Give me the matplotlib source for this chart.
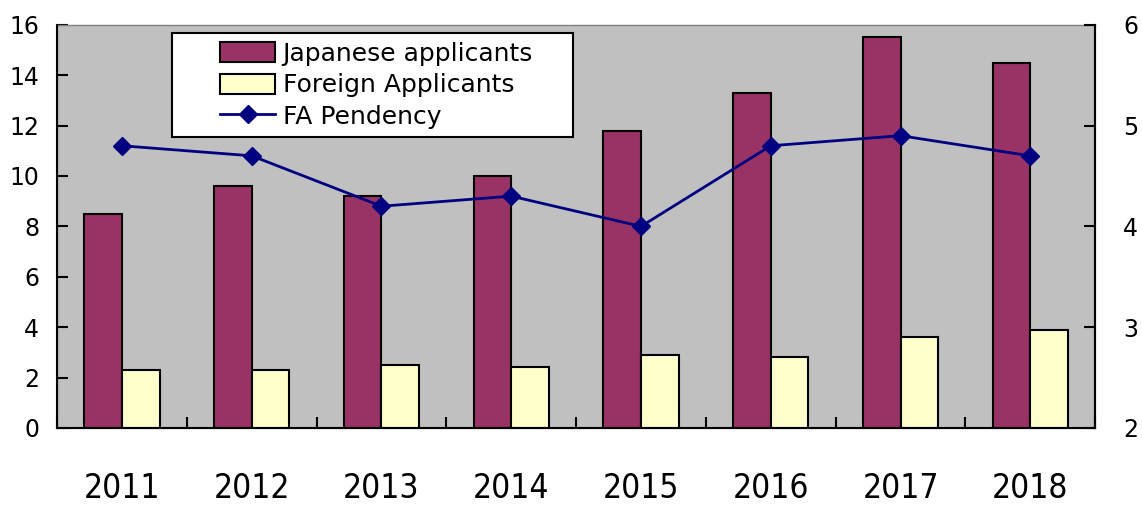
import numpy as np
import matplotlib
matplotlib.use("Agg")
import matplotlib.pyplot as plt
from matplotlib.patches import Rectangle

years = ["2011", "2012", "2013", "2014", "2015", "2016", "2017", "2018"]
japanese = [8.5, 9.6, 9.2, 10.0, 11.8, 13.3, 15.5, 14.5]
foreign = [2.3, 2.3, 2.5, 2.4, 2.9, 2.8, 3.6, 3.9]
fa_pendency = [4.8, 4.7, 4.2, 4.3, 4.0, 4.8, 4.9, 4.7]

fig = plt.figure(figsize=(11.42, 5.07), dpi=100)
ax = fig.add_axes([0.05, 0.156, 0.909, 0.795])
ax.set_facecolor("#c0c0c0")

x = np.arange(len(years))
w = 0.29
b1 = ax.bar(x - w / 2, japanese, w, color="#993366", edgecolor="black", linewidth=1.5,
            label="Japanese applicants", zorder=2)
b2 = ax.bar(x + w / 2, foreign, w, color="#ffffcc", edgecolor="black", linewidth=1.5,
            label="Foreign Applicants", zorder=2)

ax.set_xlim(-0.5, len(years) - 0.5)
ax.set_ylim(0, 16)
ax.set_yticks(range(0, 17, 2))
ax.set_xticks(x)
ax.set_xticklabels(years, family="DejaVu Sans", stretch="condensed", fontsize=24)
ax.set_xticks(np.arange(-0.5, len(years)), minor=True)
ax.tick_params(axis="x", which="major", length=0, pad=32)
ax.tick_params(axis="x", which="minor", direction="in", length=8, width=1.5)
ax.tick_params(axis="y", direction="in", length=8, width=1.5, labelsize=17, pad=13)

for s in ["left", "bottom", "right"]:
    ax.spines[s].set_linewidth(1.5)
ax.spines["top"].set_color("#808080")
ax.spines["top"].set_linewidth(1)

ax2 = ax.twinx()
ln, = ax2.plot(x, fa_pendency, color="#000080", linewidth=2, marker="D", markersize=9,
               label="FA Pendency", zorder=3)
ax2.set_ylim(2, 6)
ax2.set_yticks(range(2, 7))
ax2.tick_params(axis="y", direction="in", length=8, width=1.5, labelsize=17, pad=20)
ax2.spines["right"].set_linewidth(1.5)
ax2.spines["top"].set_visible(False)

# legend box drawn separately so the inner padding matches
ax2.add_patch(Rectangle((0.111, 0.722), 0.386, 0.258, transform=ax2.transAxes,
                        facecolor="white", edgecolor="black", linewidth=1.5, zorder=4))
leg = ax2.legend([b1, b2, ln], ["Japanese applicants", "Foreign Applicants", "FA Pendency"],
                 loc="upper left", bbox_to_anchor=(0.157, 0.958), frameon=False,
                 fontsize=18, handlelength=2.2, handleheight=0.85, labelspacing=0.3,
                 borderpad=0, borderaxespad=0, handletextpad=0.3)
leg.set_zorder(5)

fig.savefig("out.png", dpi=100)
